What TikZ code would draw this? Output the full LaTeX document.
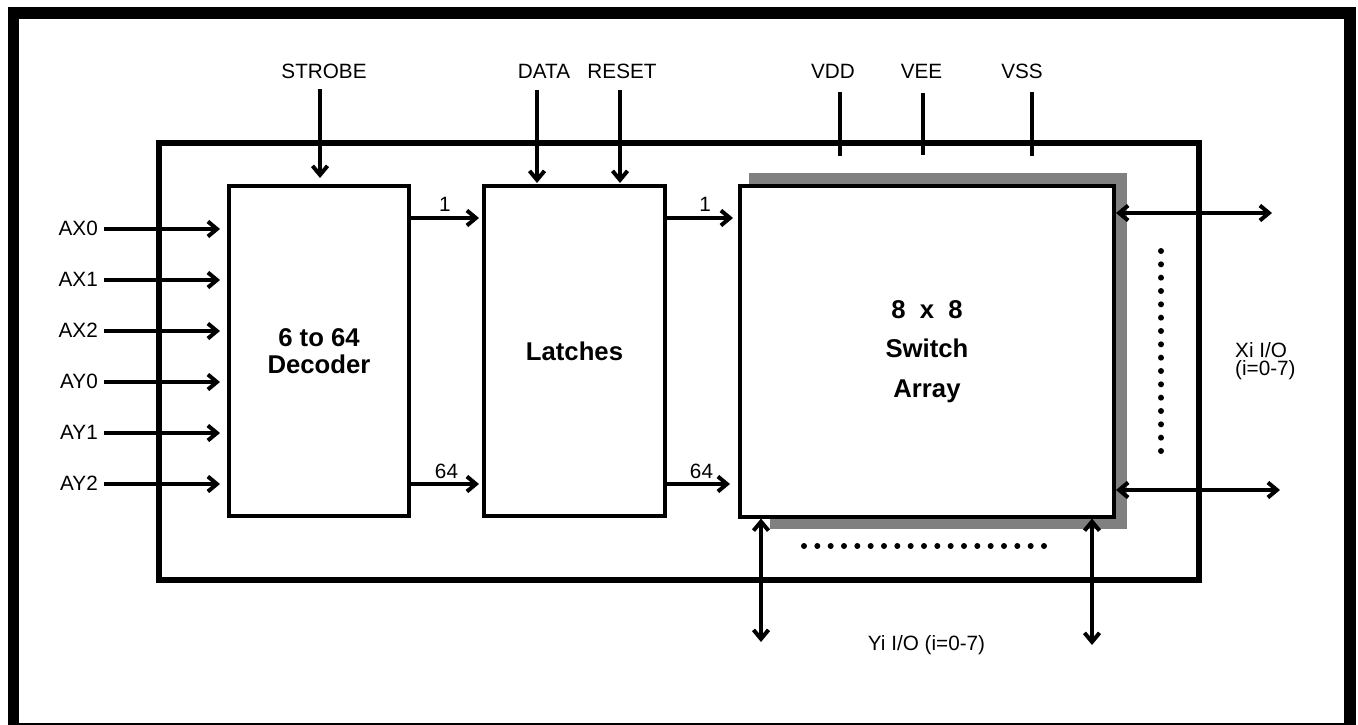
\documentclass[tikz,border=0pt]{standalone}
\usepackage{fontspec}
\setmainfont{Liberation Sans}
\usetikzlibrary{arrows.meta}
\definecolor{shadowgray}{RGB}{128,128,128}
\tikzset{
  lbl/.style={font=\fontsize{20.7}{24}\selectfont, inner sep=0pt, anchor=base},
  blk/.style={draw, line width=4pt, fill=white, inner sep=0pt, font=\fontsize{25.7}{27}\selectfont\bfseries, align=center},
  arr/.style={line width=4pt, -{Straight Barb[length=9pt,width=15pt]}},
  darr/.style={line width=4pt, {Straight Barb[length=9pt,width=15pt]}-{Straight Barb[length=9pt,width=15pt]}},
  pinline/.style={line width=4pt},
}
\begin{document}
\begin{tikzpicture}[x=1pt,y=-1pt]
\useasboundingbox (0,0) rectangle (1358,725);
\fill[white] (0,0) rectangle (1358,725);
% frames
\draw[line width=11.5pt] (13.5,13) rectangle (1350,728.5);
\draw[line width=6pt] (158.5,143) rectangle (1198.5,580);
% shadow of switch array
\fill[shadowgray] (749,173) rectangle (1127,200);
\fill[shadowgray] (1100,173) rectangle (1127,529);
\fill[shadowgray] (770,500) rectangle (1127,529);
% blocks
\node[blk, minimum width=180pt, minimum height=329.5pt] (dec) at (319,350.75) {6 to 64\\Decoder};
\node[blk, minimum width=181pt, minimum height=330pt] (lat) at (574.5,351) {Latches};
\node[blk, minimum width=374pt, minimum height=330.5pt, font=\fontsize{25.7}{39.5}\selectfont\bfseries] (sw) at (927,351.25) {8\ \ x\ \ 8\\Switch\\Array};
% top labels
\node[lbl] (strobe) at (324,79) {STROBE};
\node[lbl] (data) at (544,78) {DATA};
\node[lbl] (reset) at (622,78) {RESET};
\node[lbl] (vdd) at (833,79) {VDD};
\node[lbl] (vee) at (921.5,79) {VEE};
\node[lbl] (vss) at (1022,79) {VSS};
% top connectors
\coordinate (strobeA) at (320,89);  \coordinate (strobeB) at (320,178);
\coordinate (dataA) at (537,90);    \coordinate (dataB) at (537,183);
\coordinate (resetA) at (620,90);   \coordinate (resetB) at (620,183);
\draw[arr] (strobeA) -- (strobeB);
\draw[arr] (dataA) -- (dataB);
\draw[arr] (resetA) -- (resetB);
\coordinate (vddA) at (840,92);  \coordinate (vddB) at (840,156);
\coordinate (veeA) at (923,93);  \coordinate (veeB) at (923,155);
\coordinate (vssA) at (1032,92); \coordinate (vssB) at (1032,156);
\draw[pinline] (vddA) -- (vddB);
\draw[pinline] (veeA) -- (veeB);
\draw[pinline] (vssA) -- (vssB);
% address inputs
\foreach \nm/\yy [count=\k] in {AX0/229,AX1/280,AX2/331,AY0/382,AY1/433,AY2/484}{
  \node[lbl, anchor=base east] (in\k) at (98,\yy+6.5) {\nm};
  \coordinate (inA\k) at (104,\yy);
  \coordinate (inB\k) at (220,\yy);
  \draw[arr] (inA\k) -- (inB\k);
}
% decoder -> latches
\coordinate (d1) at (409,218); \coordinate (l1) at (479,218);
\coordinate (d64) at (409,484); \coordinate (l64) at (479,484);
\draw[arr] (d1) -- (l1);
\draw[arr] (d64) -- (l64);
\node[lbl] (n1a) at (445,211) {1};
\node[lbl] (n64a) at (446.5,478) {64};
% latches -> switch
\coordinate (la1) at (665,218); \coordinate (s1) at (733,218);
\coordinate (la64) at (665,484); \coordinate (s64) at (730,484);
\draw[arr] (la1) -- (s1);
\draw[arr] (la64) -- (s64);
\node[lbl] (n1b) at (705,211) {1};
\node[lbl] (n64b) at (701.5,478) {64};
% X I/O
\coordinate (x0a) at (1116,213); \coordinate (x0b) at (1272,213);
\coordinate (x7a) at (1116,490); \coordinate (x7b) at (1280,490);
\draw[darr] (x0a) -- (x0b);
\draw[darr] (x7a) -- (x7b);
\foreach \i in {0,...,15}{ \fill (1161,{251+\i*13.333}) circle (3pt); }
\node[lbl, anchor=base west] (xio1) at (1235,357) {Xi I/O};
\node[lbl, anchor=base west] (xio2) at (1235,375.5) {(i=0-7)};
% Y I/O
\coordinate (y0a) at (761,518.5); \coordinate (y0b) at (761,642);
\coordinate (y7a) at (1092,518.5); \coordinate (y7b) at (1092,645);
\draw[darr] (y0a) -- (y0b);
\draw[darr] (y7a) -- (y7b);
\foreach \i in {0,...,18}{ \fill ({804+\i*13.333},546) circle (3pt); }
\node[lbl] (yio) at (926.5,650) {Yi I/O (i=0-7)};
\end{tikzpicture}
\end{document}
